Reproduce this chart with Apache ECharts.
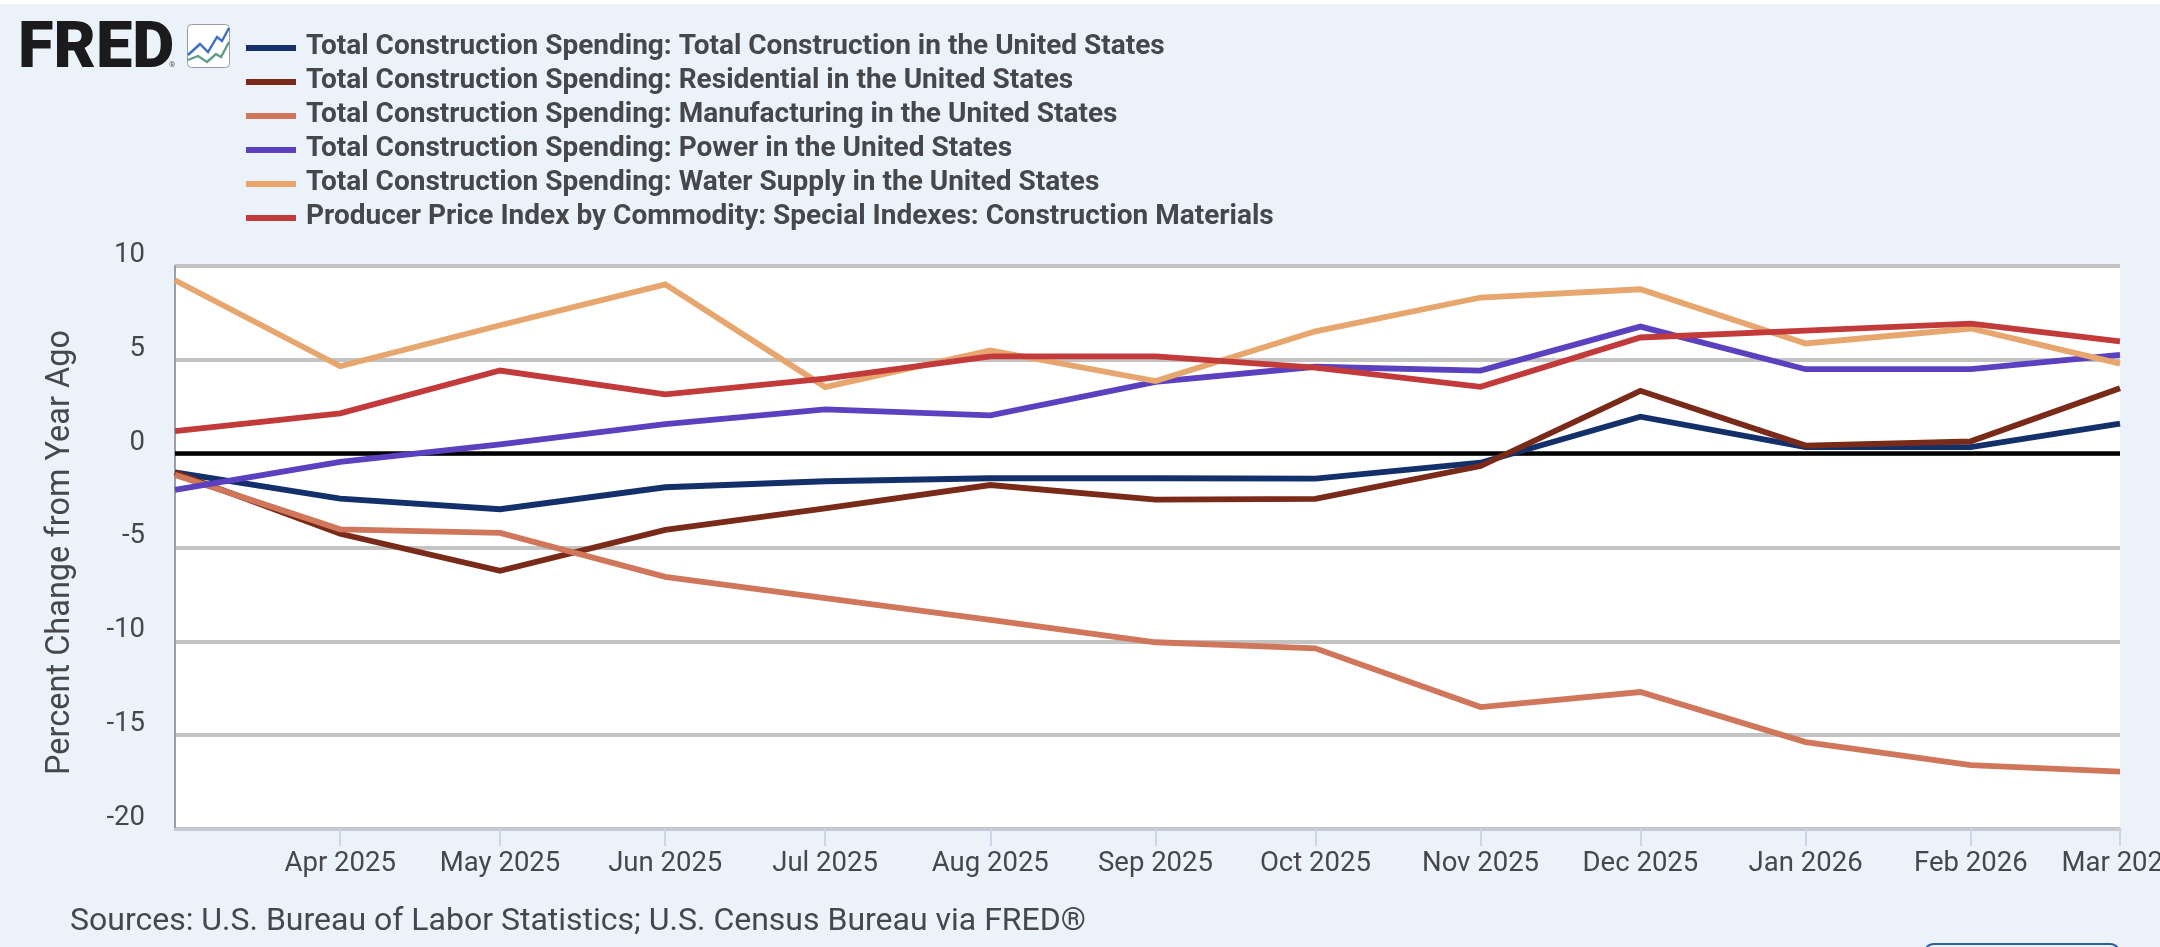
<!DOCTYPE html>
<html>
<head>
<meta charset="utf-8">
<title>Construction spending and materials prices</title>
<script src="https://cdn.jsdelivr.net/npm/echarts@6/dist/echarts.min.js"></script>
<style>
  html, body { margin: 0; padding: 0; background: #ebf2fa; }
  #chart { width: 2160px; height: 947px; }
</style>
</head>
<body>
<div id="chart"></div>
<script>
// Observation months, first of each month
const months = ['2025-03', '2025-04', '2025-05', '2025-06', '2025-07', '2025-08', '2025-09',
                '2025-10', '2025-11', '2025-12', '2026-01', '2026-02', '2026-03'];
const tickLabels = ['Apr 2025', 'May 2025', 'Jun 2025', 'Jul 2025', 'Aug 2025', 'Sep 2025',
                    'Oct 2025', 'Nov 2025', 'Dec 2025', 'Jan 2026', 'Feb 2026', 'Mar 2026'];

// Percent change from a year earlier
const totalConstruction = [-1.0, -2.39, -2.96, -1.79, -1.47, -1.31, -1.31, -1.33, -0.48, 1.97, 0.35, 0.35, 1.6];
const residential = [-1.0, -4.27, -6.24, -4.06, -2.91, -1.67, -2.45, -2.41, -0.66, 3.35, 0.43, 0.66, 3.49];
const manufacturing = [-1.13, -4.03, -4.22, -6.56, -7.7, -8.85, -10.05, -10.37, -13.5, -12.7, -15.37, -16.6, -16.94];
const power = [-1.93, -0.44, 0.5, 1.58, 2.36, 2.04, 3.83, 4.63, 4.43, 6.77, 4.5, 4.5, 5.27];
const waterSupply = [9.24, 4.66, 6.84, 9.02, 3.55, 5.5, 3.87, 6.52, 8.32, 8.76, 5.87, 6.67, 4.8];
const constructionMaterials = [1.2, 2.15, 4.43, 3.16, 4.0, 5.18, 5.18, 4.59, 3.56, 6.19, 6.56, 6.93, 5.98];

const seriesNames = [
  'Total Construction Spending: Total Construction in the United States',
  'Total Construction Spending: Residential in the United States',
  'Total Construction Spending: Manufacturing in the United States',
  'Total Construction Spending: Power in the United States',
  'Total Construction Spending: Water Supply in the United States',
  'Producer Price Index by Commodity: Special Indexes: Construction Materials'
];
const seriesValues = [totalConstruction, residential, manufacturing, power, waterSupply, constructionMaterials];
const seriesColors = ['#14306a', '#7a2a18', '#d0775b', '#5b40c0', '#e6a66e', '#c23b3a'];

const axisTitle = 'Percent Change from Year Ago';
const sourceNote = 'Sources: U.S. Bureau of Labor Statistics; U.S. Census Bureau via FRED\u00AE';

const TEXT = '#45474b';
const DAY = 86400000;
const monthTime = m => { const [y, mo] = m.split('-').map(Number); return new Date(y, mo - 1, 1).getTime(); };
const times = months.map(monthTime);
const tickTimes = times.slice(1);

// Legend rows: a key swatch plus bold text
const legendItems = [];
seriesNames.forEach((name, i) => {
  legendItems.push({
    type: 'rect', silent: true,
    shape: { x: 246, y: 45 + 34 * i, width: 50, height: 6 },
    style: { fill: seriesColors[i] }
  });
  legendItems.push({
    type: 'text', silent: true, x: 306, y: 46.5 + 34 * i,
    style: { text: name, font: 'bold 28px Roboto', fill: TEXT, textVerticalAlign: 'middle' }
  });
});

// FRED wordmark and its small line-chart badge
const brand = [
  { type: 'rect', silent: true, shape: { x: 0, y: 0, width: 2160, height: 4 }, style: { fill: '#ffffff' } },
  { type: 'text', silent: true, x: 18, y: 51, scaleX: 1.0,
    style: { text: 'FRED', font: '900 65px Roboto', fill: '#1b1b1d', textVerticalAlign: 'middle' } },
  { type: 'text', silent: true, x: 169, y: 65,
    style: { text: '\u00AE', font: '8px Roboto', fill: '#55575c', textVerticalAlign: 'middle' } },
  { type: 'rect', silent: true, shape: { x: 187.5, y: 24.5, width: 42, height: 43, r: 4 },
    style: { fill: '#ffffff', stroke: '#9a9ca2', lineWidth: 1 } },
  { type: 'polyline', silent: true,
    shape: { points: [[188, 55], [200, 44], [208, 52], [217, 37], [222, 41], [229, 28]] },
    style: { fill: 'none', stroke: '#3d6fc4', lineWidth: 2.4 } },
  { type: 'polyline', silent: true,
    shape: { points: [[188, 60], [198, 56], [207, 62], [216, 54], [221, 57], [229, 42]] },
    style: { fill: 'none', stroke: '#5f9e8c', lineWidth: 2.4 } },
  { type: 'rect', silent: true, shape: { x: 1924, y: 944, width: 196, height: 24, r: 10 },
    style: { fill: 'none', stroke: '#2b5f9f', lineWidth: 2 } },
  { type: 'text', silent: true, x: 70, y: 922,
    style: { text: sourceNote, font: '32px Roboto', fill: TEXT, textVerticalAlign: 'middle' } }
];

const lineSeries = seriesNames.map((name, i) => ({
  name,
  type: 'line',
  z: 3,
  showSymbol: false,
  symbol: 'none',
  lineStyle: { color: seriesColors[i], width: 5.8, join: 'miter' },
  itemStyle: { color: seriesColors[i] },
  data: times.map((t, k) => [t, seriesValues[i][k]]),
  // Zero reference sits under every line
  markLine: i === 0 ? {
    silent: true, z: 1, symbol: 'none', animation: false,
    label: { show: false },
    lineStyle: { color: '#000000', width: 4.5, type: 'solid' },
    data: [{ yAxis: 0 }]
  } : undefined
}));

const chart = echarts.init(document.getElementById('chart'), null, { renderer: 'canvas' });
chart.setOption({
  animation: false,
  backgroundColor: '#ebf2fa',
  grid: {
    left: 175, right: 40, top: 266, bottom: 118,
    outerBoundsMode: 'none',
    show: true, backgroundColor: '#ffffff', borderWidth: 0
  },
  xAxis: {
    type: 'time',
    min: times[0],
    max: times[times.length - 1],
    minInterval: 28 * DAY,
    maxInterval: 31 * DAY,
    splitLine: { show: false },
    axisLine: { onZero: false, lineStyle: { color: '#c9c9d6', width: 3 } },
    axisTick: { show: true, customValues: tickTimes, length: 17, lineStyle: { color: '#ccd6eb', width: 2 } },
    minorTick: { show: false },
    axisLabel: {
      margin: 21,
      fontFamily: 'Roboto', fontSize: 27.5, color: TEXT,
      hideOverlap: false,
      showMinLabel: false,
      showMaxLabel: true,
      alignMinLabel: 'center',
      alignMaxLabel: 'center',
      formatter: value => tickLabels[tickTimes.indexOf(value)] || ''
    }
  },
  yAxis: {
    type: 'value',
    min: -20, max: 10, interval: 5,
    name: axisTitle,
    nameLocation: 'middle',
    nameRotate: 90,
    nameGap: 98,
    nameTextStyle: { fontFamily: 'Roboto', fontSize: 32.5, color: TEXT, padding: [0, 10, 0, 0] },
    axisLine: { show: true, onZero: false, lineStyle: { color: '#9a9ea8', width: 2 } },
    axisTick: { show: false },
    splitLine: { show: true, lineStyle: { color: '#c3c3c3', width: 4 } },
    axisLabel: {
      margin: 30,
      fontFamily: 'Roboto', fontSize: 27.5, color: TEXT,
      verticalAlign: 'bottom', lineHeight: 22
    }
  },
  graphic: { elements: brand.concat(legendItems) },
  series: lineSeries
});
</script>
</body>
</html>
